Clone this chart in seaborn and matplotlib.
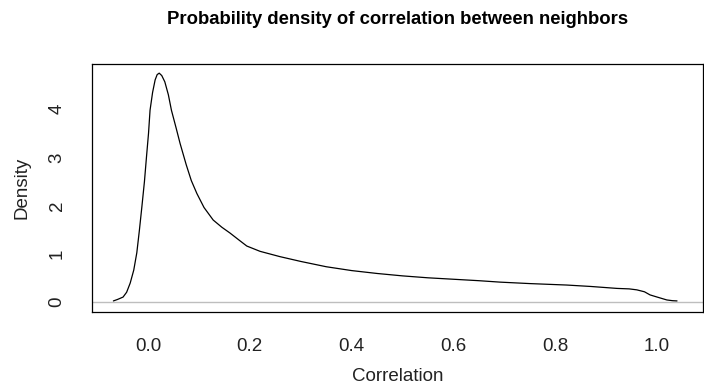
import matplotlib
matplotlib.use("Agg")
import matplotlib.pyplot as plt
import seaborn as sns
import pandas as pd

sns.set_theme(style="white")
plt.rcParams['font.family'] = ['Liberation Sans', 'DejaVu Sans']

# density curve
corr = [-0.068, -0.060, -0.049, -0.042, -0.035, -0.028, -0.022, -0.017, -0.012, -0.007,
        -0.003, 0.001, 0.004, 0.009, 0.014, 0.018, 0.022, 0.027, 0.033, 0.040,
        0.046, 0.055, 0.063, 0.075, 0.085, 0.096, 0.110, 0.128, 0.145, 0.161,
        0.178, 0.194, 0.220, 0.259, 0.300, 0.350, 0.400, 0.450, 0.500, 0.550,
        0.600, 0.650, 0.692, 0.750, 0.822, 0.870, 0.921, 0.945, 0.960, 0.975,
        0.986, 1.000, 1.019, 1.030, 1.039]
dens = [0.02, 0.05, 0.10, 0.20, 0.39, 0.66, 1.02, 1.48, 1.98, 2.50,
        3.01, 3.50, 3.98, 4.35, 4.61, 4.72, 4.75, 4.70, 4.57, 4.30,
        3.98, 3.62, 3.29, 2.85, 2.52, 2.25, 1.96, 1.70, 1.55, 1.43,
        1.29, 1.16, 1.05, 0.94, 0.84, 0.73, 0.65, 0.59, 0.54, 0.50,
        0.47, 0.44, 0.41, 0.38, 0.35, 0.32, 0.28, 0.27, 0.25, 0.21,
        0.145, 0.10, 0.04, 0.025, 0.02]

title = "Probability density of correlation between neighbors"
x_label = "Correlation"
y_label = "Density"
x_ticks = [0.0, 0.2, 0.4, 0.6, 0.8, 1.0]
y_ticks = [0, 1, 2, 3, 4]

df = pd.DataFrame({"corr": corr, "dens": dens})

fig = plt.figure(figsize=(7.04, 3.85), dpi=100)
ax = fig.add_axes([92/704, 73/385, 611/704, 248/385])

ax.axhline(0, color="#bebebe", lw=1.0, zorder=1)
sns.lineplot(data=df, x="corr", y="dens", ax=ax, color="black", lw=0.9, sort=False,
             estimator=None, zorder=2)

ax.set_xlim(-0.110, 1.090)
ax.set_ylim(-0.21, 4.94)
ax.set_xticks(x_ticks)
ax.set_xticklabels([f"{t:.1f}" for t in x_ticks])
ax.set_yticks(y_ticks)
ax.set_yticklabels([str(t) for t in y_ticks], rotation=90, va="center")

for s in ax.spines.values():
    s.set_visible(True)
    s.set_color("black")
    s.set_linewidth(0.9)

ax.tick_params(axis="both", direction="out", length=7, width=0.9, color="#333333",
               labelsize=13.5, labelcolor="#222222")
ax.tick_params(axis="x", pad=12)
ax.tick_params(axis="y", pad=12)

ax.set_xlabel(x_label, fontsize=13.5, color="#222222", labelpad=9)
ax.set_ylabel(y_label, fontsize=13.5, color="#222222", labelpad=13)
fig.text(397.5/704, 1 - 20/385, title, ha="center", va="center",
         fontsize=13.3, fontweight="bold", color="black")

fig.savefig("out.png", dpi=100)
